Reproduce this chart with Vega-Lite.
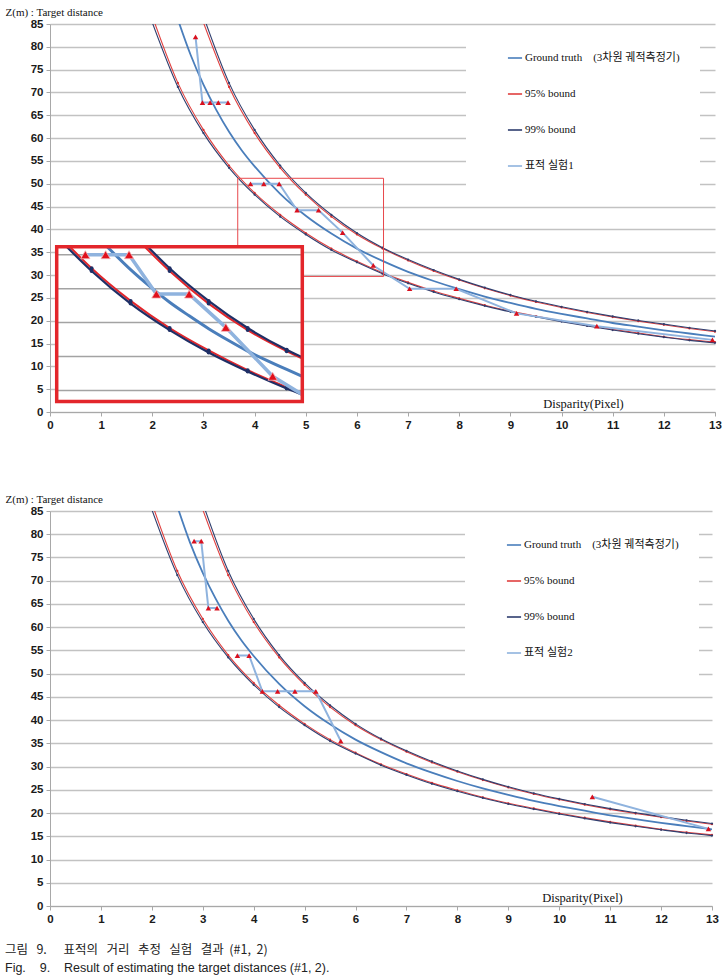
{
  "$schema": "https://vega.github.io/schema/vega-lite/v6.json",
  "background": "white",
  "padding": {"left": 5, "top": 6, "right": 0, "bottom": 2},
  "autosize": {"type": "pad"},
  "title": {
    "text": "그림\u00a0\u00a0\u00a09.\u00a0\u00a0\u00a0\u00a0\u00a0\u00a0표적의\u00a0\u00a0\u00a0거리\u00a0\u00a0\u00a0추정\u00a0\u00a0\u00a0실험\u00a0\u00a0\u00a0결과\u00a0\u00a0(#1,\u00a0\u00a02)",
    "subtitle": "Fig.\u00a0\u00a0\u00a0\u00a09.\u00a0\u00a0\u00a0\u00a0Result\u00a0of\u00a0estimating\u00a0the\u00a0target\u00a0distances\u00a0(#1,\u00a02).",
    "orient": "bottom",
    "anchor": "start",
    "offset": 19,
    "font": "Noto Sans CJK KR",
    "fontSize": 12.5,
    "fontWeight": "normal",
    "color": "#222",
    "subtitleFont": "Liberation Sans Narrow, Liberation Sans, sans-serif",
    "subtitleFontSize": 12.5,
    "subtitleColor": "#222",
    "subtitlePadding": 6
  },
  "datasets": {
    "curves": [
      {"s": "gt", "line": "gt", "d": 2.5, "z": 86.0}, {"s": "gt", "line": "gt", "d": 2.75, "z": 78.2},
      {"s": "gt", "line": "gt", "d": 3, "z": 71.7}, {"s": "gt", "line": "gt", "d": 3.25, "z": 66.2},
      {"s": "gt", "line": "gt", "d": 3.5, "z": 61.4}, {"s": "gt", "line": "gt", "d": 3.75, "z": 57.3},
      {"s": "gt", "line": "gt", "d": 4, "z": 53.8}, {"s": "gt", "line": "gt", "d": 4.5, "z": 47.8},
      {"s": "gt", "line": "gt", "d": 5, "z": 43.0}, {"s": "gt", "line": "gt", "d": 5.5, "z": 39.1},
      {"s": "gt", "line": "gt", "d": 6, "z": 35.8}, {"s": "gt", "line": "gt", "d": 6.5, "z": 33.1},
      {"s": "gt", "line": "gt", "d": 7, "z": 30.7}, {"s": "gt", "line": "gt", "d": 7.5, "z": 28.7},
      {"s": "gt", "line": "gt", "d": 8, "z": 26.9}, {"s": "gt", "line": "gt", "d": 8.5, "z": 25.3},
      {"s": "gt", "line": "gt", "d": 9, "z": 23.9}, {"s": "gt", "line": "gt", "d": 9.5, "z": 22.6},
      {"s": "gt", "line": "gt", "d": 10, "z": 21.5}, {"s": "gt", "line": "gt", "d": 10.5, "z": 20.5},
      {"s": "gt", "line": "gt", "d": 11, "z": 19.5}, {"s": "gt", "line": "gt", "d": 11.5, "z": 18.7},
      {"s": "gt", "line": "gt", "d": 12, "z": 17.9}, {"s": "gt", "line": "gt", "d": 12.5, "z": 17.2},
      {"s": "gt", "line": "gt", "d": 13, "z": 16.5},

      {"s": "b95", "line": "u95", "d": 3, "z": 85.3}, {"s": "b95", "line": "u95", "d": 3.5, "z": 71.2},
      {"s": "b95", "line": "u95", "d": 4, "z": 61.1}, {"s": "b95", "line": "u95", "d": 4.5, "z": 53.5},
      {"s": "b95", "line": "u95", "d": 5, "z": 47.6}, {"s": "b95", "line": "u95", "d": 5.5, "z": 42.8},
      {"s": "b95", "line": "u95", "d": 6, "z": 38.9}, {"s": "b95", "line": "u95", "d": 6.5, "z": 35.8},
      {"s": "b95", "line": "u95", "d": 7, "z": 33.2}, {"s": "b95", "line": "u95", "d": 7.5, "z": 30.9},
      {"s": "b95", "line": "u95", "d": 8, "z": 28.9}, {"s": "b95", "line": "u95", "d": 8.5, "z": 27.1},
      {"s": "b95", "line": "u95", "d": 9, "z": 25.5}, {"s": "b95", "line": "u95", "d": 9.5, "z": 24.1},
      {"s": "b95", "line": "u95", "d": 10, "z": 22.9}, {"s": "b95", "line": "u95", "d": 10.5, "z": 21.8},
      {"s": "b95", "line": "u95", "d": 11, "z": 20.8}, {"s": "b95", "line": "u95", "d": 11.5, "z": 19.9},
      {"s": "b95", "line": "u95", "d": 12, "z": 19.1}, {"s": "b95", "line": "u95", "d": 12.5, "z": 18.3},
      {"s": "b95", "line": "u95", "d": 13, "z": 17.6},

      {"s": "b99", "line": "u99", "d": 3, "z": 86.7}, {"s": "b99", "line": "u99", "d": 3.5, "z": 72.1},
      {"s": "b99", "line": "u99", "d": 4, "z": 61.8}, {"s": "b99", "line": "u99", "d": 4.5, "z": 54.0},
      {"s": "b99", "line": "u99", "d": 5, "z": 48.0}, {"s": "b99", "line": "u99", "d": 5.5, "z": 43.2},
      {"s": "b99", "line": "u99", "d": 6, "z": 39.2}, {"s": "b99", "line": "u99", "d": 6.5, "z": 36.0},
      {"s": "b99", "line": "u99", "d": 7, "z": 33.4}, {"s": "b99", "line": "u99", "d": 7.5, "z": 31.1},
      {"s": "b99", "line": "u99", "d": 8, "z": 29.05}, {"s": "b99", "line": "u99", "d": 8.5, "z": 27.25},
      {"s": "b99", "line": "u99", "d": 9, "z": 25.65}, {"s": "b99", "line": "u99", "d": 9.5, "z": 24.25},
      {"s": "b99", "line": "u99", "d": 10, "z": 23.05}, {"s": "b99", "line": "u99", "d": 10.5, "z": 21.95},
      {"s": "b99", "line": "u99", "d": 11, "z": 20.95}, {"s": "b99", "line": "u99", "d": 11.5, "z": 20.05},
      {"s": "b99", "line": "u99", "d": 12, "z": 19.25}, {"s": "b99", "line": "u99", "d": 12.5, "z": 18.45},
      {"s": "b99", "line": "u99", "d": 13, "z": 17.75},

      {"s": "b95", "line": "l95", "d": 2, "z": 86.7}, {"s": "b95", "line": "l95", "d": 2.5, "z": 72.1},
      {"s": "b95", "line": "l95", "d": 3, "z": 61.8}, {"s": "b95", "line": "l95", "d": 3.5, "z": 54.0},
      {"s": "b95", "line": "l95", "d": 4, "z": 48.0}, {"s": "b95", "line": "l95", "d": 4.5, "z": 43.2},
      {"s": "b95", "line": "l95", "d": 5, "z": 39.2}, {"s": "b95", "line": "l95", "d": 5.5, "z": 35.8},
      {"s": "b95", "line": "l95", "d": 6, "z": 33.0}, {"s": "b95", "line": "l95", "d": 6.5, "z": 30.5},
      {"s": "b95", "line": "l95", "d": 7, "z": 28.4}, {"s": "b95", "line": "l95", "d": 7.5, "z": 26.5},
      {"s": "b95", "line": "l95", "d": 8, "z": 24.9}, {"s": "b95", "line": "l95", "d": 8.5, "z": 23.4},
      {"s": "b95", "line": "l95", "d": 9, "z": 22.1}, {"s": "b95", "line": "l95", "d": 9.5, "z": 21.0},
      {"s": "b95", "line": "l95", "d": 10, "z": 19.95}, {"s": "b95", "line": "l95", "d": 10.5, "z": 19.0},
      {"s": "b95", "line": "l95", "d": 11, "z": 18.1}, {"s": "b95", "line": "l95", "d": 11.5, "z": 17.3},
      {"s": "b95", "line": "l95", "d": 12, "z": 16.5}, {"s": "b95", "line": "l95", "d": 12.5, "z": 15.85},
      {"s": "b95", "line": "l95", "d": 13, "z": 15.3},

      {"s": "b99", "line": "l99", "d": 2, "z": 85.3}, {"s": "b99", "line": "l99", "d": 2.5, "z": 71.2},
      {"s": "b99", "line": "l99", "d": 3, "z": 61.1}, {"s": "b99", "line": "l99", "d": 3.5, "z": 53.5},
      {"s": "b99", "line": "l99", "d": 4, "z": 47.6}, {"s": "b99", "line": "l99", "d": 4.5, "z": 42.8},
      {"s": "b99", "line": "l99", "d": 5, "z": 38.9}, {"s": "b99", "line": "l99", "d": 5.5, "z": 35.5},
      {"s": "b99", "line": "l99", "d": 6, "z": 32.8}, {"s": "b99", "line": "l99", "d": 6.5, "z": 30.3},
      {"s": "b99", "line": "l99", "d": 7, "z": 28.2}, {"s": "b99", "line": "l99", "d": 7.5, "z": 26.3},
      {"s": "b99", "line": "l99", "d": 8, "z": 24.7}, {"s": "b99", "line": "l99", "d": 8.5, "z": 23.25},
      {"s": "b99", "line": "l99", "d": 9, "z": 21.95}, {"s": "b99", "line": "l99", "d": 9.5, "z": 20.85},
      {"s": "b99", "line": "l99", "d": 10, "z": 19.8}, {"s": "b99", "line": "l99", "d": 10.5, "z": 18.85},
      {"s": "b99", "line": "l99", "d": 11, "z": 17.95}, {"s": "b99", "line": "l99", "d": 11.5, "z": 17.15},
      {"s": "b99", "line": "l99", "d": 12, "z": 16.4}, {"s": "b99", "line": "l99", "d": 12.5, "z": 15.7},
      {"s": "b99", "line": "l99", "d": 13, "z": 15.15}
    ],
    "insetCurves": [
      {"line": "gt", "d": 4.2, "z": 51.18}, {"line": "gt", "d": 4.5, "z": 47.8}, {"line": "gt", "d": 4.75, "z": 45.3},
      {"line": "gt", "d": 5, "z": 43.0}, {"line": "gt", "d": 5.25, "z": 41.0}, {"line": "gt", "d": 5.5, "z": 39.1},
      {"line": "gt", "d": 5.75, "z": 37.4}, {"line": "gt", "d": 6, "z": 35.8}, {"line": "gt", "d": 6.25, "z": 34.4},
      {"line": "gt", "d": 6.5, "z": 33.1}, {"line": "gt", "d": 6.7, "z": 32.1},
      {"line": "l95", "d": 3.72, "z": 51.18}, {"line": "l95", "d": 4, "z": 48.0}, {"line": "l95", "d": 4.5, "z": 43.2},
      {"line": "l95", "d": 5, "z": 39.2}, {"line": "l95", "d": 5.5, "z": 35.9}, {"line": "l95", "d": 6, "z": 33.0},
      {"line": "l95", "d": 6.5, "z": 30.5}, {"line": "l95", "d": 6.7, "z": 29.6},
      {"line": "l99", "d": 3.68, "z": 51.18}, {"line": "l99", "d": 4, "z": 47.6}, {"line": "l99", "d": 4.5, "z": 42.8},
      {"line": "l99", "d": 5, "z": 38.9}, {"line": "l99", "d": 5.5, "z": 35.6}, {"line": "l99", "d": 6, "z": 32.8},
      {"line": "l99", "d": 6.5, "z": 30.3}, {"line": "l99", "d": 6.7, "z": 29.4},
      {"line": "u95", "d": 4.68, "z": 51.18}, {"line": "u95", "d": 5, "z": 47.6}, {"line": "u95", "d": 5.5, "z": 42.8},
      {"line": "u95", "d": 6, "z": 38.9}, {"line": "u95", "d": 6.5, "z": 35.8}, {"line": "u95", "d": 6.7, "z": 34.7},
      {"line": "u99", "d": 4.72, "z": 51.18}, {"line": "u99", "d": 5, "z": 48.0}, {"line": "u99", "d": 5.5, "z": 43.2},
      {"line": "u99", "d": 6, "z": 39.2}, {"line": "u99", "d": 6.5, "z": 36.0}, {"line": "u99", "d": 6.7, "z": 34.9}
    ],
    "insetExp": [
      {"d": 3.92, "z": 50.0}, {"d": 4.18, "z": 50.0}, {"d": 4.48, "z": 50.0}, {"d": 4.83, "z": 44.2},
      {"d": 5.25, "z": 44.2}, {"d": 5.72, "z": 39.3}, {"d": 6.32, "z": 32.1}, {"d": 6.7, "z": 29.4}
    ],
    "insetGrid": [{"z": 30}, {"z": 35}, {"z": 40}, {"z": 45}, {"z": 50}],
    "exp1": [
      {"s": "exp", "seg": "a", "d": 2.845, "z": 82.2}, {"s": "exp", "seg": "a", "d": 2.98, "z": 67.8},
      {"s": "exp", "seg": "a", "d": 3.13, "z": 67.8}, {"s": "exp", "seg": "a", "d": 3.29, "z": 67.8},
      {"s": "exp", "seg": "a", "d": 3.48, "z": 67.8},
      {"s": "exp", "seg": "b", "d": 3.92, "z": 50.0}, {"s": "exp", "seg": "b", "d": 4.18, "z": 50.0},
      {"s": "exp", "seg": "b", "d": 4.48, "z": 50.0}, {"s": "exp", "seg": "b", "d": 4.83, "z": 44.2},
      {"s": "exp", "seg": "b", "d": 5.25, "z": 44.2}, {"s": "exp", "seg": "b", "d": 5.72, "z": 39.3},
      {"s": "exp", "seg": "b", "d": 6.32, "z": 32.1}, {"s": "exp", "seg": "b", "d": 7.03, "z": 27.0},
      {"s": "exp", "seg": "b", "d": 7.94, "z": 27.0}, {"s": "exp", "seg": "b", "d": 9.12, "z": 21.6},
      {"s": "exp", "seg": "b", "d": 10.69, "z": 18.8}, {"s": "exp", "seg": "b", "d": 12.95, "z": 15.8}
    ],
    "exp2": [
      {"s": "exp", "seg": "a", "d": 2.83, "z": 78.5}, {"s": "exp", "seg": "a", "d": 2.97, "z": 78.5},
      {"s": "exp", "seg": "a", "d": 3.11, "z": 64.1}, {"s": "exp", "seg": "a", "d": 3.28, "z": 64.1},
      {"s": "exp", "seg": "b", "d": 3.68, "z": 53.9}, {"s": "exp", "seg": "b", "d": 3.91, "z": 53.9},
      {"s": "exp", "seg": "b", "d": 4.17, "z": 46.2}, {"s": "exp", "seg": "b", "d": 4.47, "z": 46.2},
      {"s": "exp", "seg": "b", "d": 4.81, "z": 46.2}, {"s": "exp", "seg": "b", "d": 5.22, "z": 46.2},
      {"s": "exp", "seg": "b", "d": 5.71, "z": 35.5},
      {"s": "exp", "seg": "c", "d": 10.65, "z": 23.5}, {"s": "exp", "seg": "c", "d": 12.93, "z": 16.6}
    ]
  },
  "vconcat": [
    {
      "width": 665,
      "height": 388,
      "layer": [
        {
          "encoding": {
            "x": {"field": "d", "type": "quantitative",
              "scale": {"domain": [0, 13], "nice": false, "zero": false},
              "axis": {"values": [0,1,2,3,4,5,6,7,8,9,10,11,12,13], "labelOverlap": false, "title": "Disparity(Pixel)", "titleX": 533, "titleY": -9}},
            "y": {"field": "z", "type": "quantitative",
              "scale": {"domain": [0, 85], "nice": false, "zero": false},
              "axis": {"values": [0,5,10,15,20,25,30,35,40,45,50,55,60,65,70,75,80,85], "labelOverlap": false, "grid": true, "title": "Z(m) : Target distance", "titleX": -45, "titleY": -12}}
          },
          "layer": [
            {
              "data": {"name": "curves"},
              "transform": [{"filter": "datum.line == 'gt'"}],
              "mark": {"type": "line", "interpolate": "monotone", "strokeWidth": 1.8, "clip": true},
              "encoding": {
                "color": {"field": "s", "type": "nominal",
                  "scale": {"domain": ["gt", "b95", "b99", "exp"], "range": ["#4a7ebb", "#e0403f", "#2f3e6e", "#8fb3de"]},
                  "legend": {"title": null, "orient": "none", "legendX": 416, "legendY": 6,
                    "labelExpr": "datum.label == 'gt' ? 'Ground truth\u00a0\u00a0\u00a0\u00a0(3차원 궤적측정기)' : datum.label == 'b95' ? '95% bound' : datum.label == 'b99' ? '99% bound' : '표적 실험1'"}}
              }
            },
            {
              "data": {"name": "curves"},
              "transform": [{"filter": "datum.s == 'b95'"}],
              "mark": {"type": "line", "interpolate": "monotone", "strokeWidth": 1.1, "clip": true},
              "encoding": {"color": {"field": "s", "type": "nominal"}, "detail": {"field": "line"}}
            },
            {
              "data": {"name": "curves"},
              "transform": [{"filter": "datum.s == 'b99'"}],
              "mark": {"type": "line", "interpolate": "monotone", "strokeWidth": 1.1, "clip": true},
              "encoding": {"color": {"field": "s", "type": "nominal"}, "detail": {"field": "line"}}
            },
            {
              "data": {"name": "curves"},
              "transform": [{"filter": "datum.s == 'b95' && datum.z < 85"}],
              "mark": {"type": "point", "filled": true, "size": 5, "color": "#d83030", "opacity": 1}
            },
            {
              "data": {"name": "curves"},
              "transform": [{"filter": "datum.s == 'b99' && datum.z < 85"}],
              "mark": {"type": "point", "filled": true, "size": 5, "color": "#2f3e6e", "opacity": 1}
            },
            {
              "data": {"name": "exp1"},
              "mark": {"type": "line", "strokeWidth": 2, "clip": true},
              "encoding": {"color": {"field": "s", "type": "nominal"}, "detail": {"field": "seg"}}
            },
            {
              "data": {"name": "exp1"},
              "mark": {"type": "point", "shape": "triangle-up", "filled": true, "size": 30, "color": "#d9101e", "opacity": 1}
            }
          ]
        },
        {
          "data": {"values": [{}]},
          "mark": {"type": "rect", "filled": false, "stroke": "#e8484c", "strokeWidth": 1},
          "encoding": {
            "x": {"datum": 3.67, "type": "quantitative", "scale": {"domain": [0, 13], "nice": false, "zero": false}, "axis": null},
            "x2": {"datum": 6.52},
            "y": {"datum": 29.7, "type": "quantitative", "scale": {"domain": [0, 85], "nice": false, "zero": false}, "axis": null},
            "y2": {"datum": 51.2}
          }
        },
        {
          "layer": [
            {
              "data": {"values": [{}]},
              "mark": {"type": "rect", "fill": "white", "strokeWidth": 0},
              "encoding": {
                "x": {"datum": 3.553, "type": "quantitative", "scale": {"domain": [3.553, 6.7], "range": [6.7, 252.3], "nice": false, "zero": false}, "axis": null},
                "x2": {"datum": 6.7},
                "y": {"datum": 28.4, "type": "quantitative", "scale": {"domain": [28.4, 51.18], "range": [377.4, 222.7], "nice": false, "zero": false}, "axis": null},
                "y2": {"datum": 51.18}
              }
            },
            {
              "data": {"name": "insetGrid"},
              "mark": {"type": "rule", "color": "#a3a3a3", "strokeWidth": 1.5},
              "encoding": {
                "x": {"datum": 3.553, "type": "quantitative", "axis": null}, "x2": {"datum": 6.7},
                "y": {"field": "z", "type": "quantitative", "axis": null}
              }
            },
            {
              "data": {"name": "insetCurves"},
              "transform": [{"filter": "datum.line == 'gt'"}],
              "mark": {"type": "line", "interpolate": "monotone", "strokeWidth": 3, "color": "#4a7ebb"},
              "encoding": {"x": {"field": "d", "type": "quantitative", "axis": null}, "y": {"field": "z", "type": "quantitative", "axis": null}}
            },
            {
              "data": {"name": "insetCurves"},
              "transform": [{"filter": "datum.line == 'u95' || datum.line == 'l95'"}],
              "mark": {"type": "line", "interpolate": "monotone", "strokeWidth": 2, "color": "#e3262b"},
              "encoding": {"x": {"field": "d", "type": "quantitative", "axis": null}, "y": {"field": "z", "type": "quantitative", "axis": null}, "detail": {"field": "line"}}
            },
            {
              "data": {"name": "insetCurves"},
              "transform": [{"filter": "datum.line == 'u99' || datum.line == 'l99'"}],
              "mark": {"type": "line", "interpolate": "monotone", "strokeWidth": 2.2, "color": "#1f2f66"},
              "encoding": {"x": {"field": "d", "type": "quantitative", "axis": null}, "y": {"field": "z", "type": "quantitative", "axis": null}, "detail": {"field": "line"}}
            },
            {
              "data": {"name": "insetCurves"},
              "transform": [{"filter": "datum.line != 'gt' && datum.d * 2 == floor(datum.d * 2)"}],
              "mark": {"type": "point", "filled": true, "size": 16, "color": "#1f2f66", "opacity": 1},
              "encoding": {"x": {"field": "d", "type": "quantitative", "axis": null}, "y": {"field": "z", "type": "quantitative", "axis": null}}
            },
            {
              "data": {"name": "insetExp"},
              "mark": {"type": "line", "strokeWidth": 3.5, "color": "#8fb3de"},
              "encoding": {"x": {"field": "d", "type": "quantitative", "axis": null}, "y": {"field": "z", "type": "quantitative", "axis": null}}
            },
            {
              "data": {"name": "insetExp"},
              "transform": [{"filter": "datum.d < 6.6"}],
              "mark": {"type": "point", "shape": "triangle-up", "filled": true, "size": 85, "color": "#e0101c", "opacity": 1, "stroke": "#f2b3b6", "strokeWidth": 0.8},
              "encoding": {"x": {"field": "d", "type": "quantitative", "axis": null}, "y": {"field": "z", "type": "quantitative", "axis": null}}
            },
            {
              "data": {"values": [{}]},
              "mark": {"type": "rect", "filled": false, "stroke": "#e3262b", "strokeWidth": 3.5},
              "encoding": {
                "x": {"datum": 3.553, "type": "quantitative", "axis": null}, "x2": {"datum": 6.7},
                "y": {"datum": 28.4, "type": "quantitative", "axis": null}, "y2": {"datum": 51.18}
              }
            }
          ]
        }
      ],
      "resolve": {"scale": {"x": "independent", "y": "independent"}, "axis": {"x": "independent", "y": "independent"}}
    },
    {
      "width": 662,
      "height": 395,
      "encoding": {
        "x": {"field": "d", "type": "quantitative",
          "scale": {"domain": [0, 13], "nice": false, "zero": false},
          "axis": {"values": [0,1,2,3,4,5,6,7,8,9,10,11,12,13], "labelOverlap": false, "title": "Disparity(Pixel)", "titleX": 532, "titleY": -9}},
        "y": {"field": "z", "type": "quantitative",
          "scale": {"domain": [0, 85], "nice": false, "zero": false},
          "axis": {"values": [0,5,10,15,20,25,30,35,40,45,50,55,60,65,70,75,80,85], "labelOverlap": false, "grid": true, "title": "Z(m) : Target distance", "titleX": -45, "titleY": -12}}
      },
      "layer": [
        {
          "data": {"name": "curves"},
          "transform": [{"filter": "datum.line == 'gt'"}],
          "mark": {"type": "line", "interpolate": "monotone", "strokeWidth": 1.8, "clip": true},
          "encoding": {
            "color": {"field": "s", "type": "nominal",
              "scale": {"domain": ["gt", "b95", "b99", "exp"], "range": ["#4a7ebb", "#e0403f", "#2f3e6e", "#8fb3de"]},
              "legend": {"title": null, "orient": "none", "legendX": 415, "legendY": 6,
                "labelExpr": "datum.label == 'gt' ? 'Ground truth\u00a0\u00a0\u00a0\u00a0(3차원 궤적측정기)' : datum.label == 'b95' ? '95% bound' : datum.label == 'b99' ? '99% bound' : '표적 실험2'"}}
          }
        },
        {
          "data": {"name": "curves"},
          "transform": [{"filter": "datum.s == 'b95'"}],
          "mark": {"type": "line", "interpolate": "monotone", "strokeWidth": 1.1, "clip": true},
          "encoding": {"color": {"field": "s", "type": "nominal"}, "detail": {"field": "line"}}
        },
        {
          "data": {"name": "curves"},
          "transform": [{"filter": "datum.s == 'b99'"}],
          "mark": {"type": "line", "interpolate": "monotone", "strokeWidth": 1.1, "clip": true},
          "encoding": {"color": {"field": "s", "type": "nominal"}, "detail": {"field": "line"}}
        },
        {
          "data": {"name": "curves"},
          "transform": [{"filter": "datum.s == 'b95' && datum.z < 85"}],
          "mark": {"type": "point", "filled": true, "size": 5, "color": "#d83030", "opacity": 1}
        },
        {
          "data": {"name": "curves"},
          "transform": [{"filter": "datum.s == 'b99' && datum.z < 85"}],
          "mark": {"type": "point", "filled": true, "size": 5, "color": "#2f3e6e", "opacity": 1}
        },
        {
          "data": {"name": "exp2"},
          "mark": {"type": "line", "strokeWidth": 2, "clip": true},
          "encoding": {"color": {"field": "s", "type": "nominal"}, "detail": {"field": "seg"}}
        },
        {
          "data": {"name": "exp2"},
          "mark": {"type": "point", "shape": "triangle-up", "filled": true, "size": 30, "color": "#d9101e", "opacity": 1}
        }
      ]
    }
  ],
  "spacing": 62,
  "resolve": {"scale": {"x": "independent", "y": "independent", "color": "independent"}, "legend": {"color": "independent"}},
  "config": {
    "view": {"stroke": null},
    "axis": {
      "labelFont": "Liberation Sans Narrow, Liberation Sans, sans-serif",
      "labelFontWeight": "bold",
      "labelFontSize": 11.5,
      "labelColor": "#1a1a1a",
      "labelFlush": false,
      "labelOverlap": false,
      "labelPadding": 3,
      "domainColor": "#a8a8a8",
      "tickColor": "#a8a8a8",
      "tickSize": 4,
      "gridColor": "#c2c2c2",
      "gridWidth": 1.3,
      "titleFont": "Liberation Serif",
      "titleFontWeight": "normal",
      "titleFontSize": 11,
      "titleColor": "#111",
      "titleAngle": 0,
      "titleAlign": "left",
      "titleBaseline": "middle"
    },
    "axisX": {"grid": false, "titleAlign": "center", "titleFontSize": 12.5},
    "legend": {
      "fillColor": "white",
      "padding": 20,
      "symbolType": "stroke",
      "symbolSize": 200,
      "symbolStrokeWidth": 1.6,
      "symbolOffset": 21,
      "labelFont": "Liberation Serif, Noto Sans CJK KR",
      "labelFontSize": 11,
      "labelLimit": 400,
      "labelColor": "#111",
      "labelOffset": 2,
      "rowPadding": 23
    }
  }
}
